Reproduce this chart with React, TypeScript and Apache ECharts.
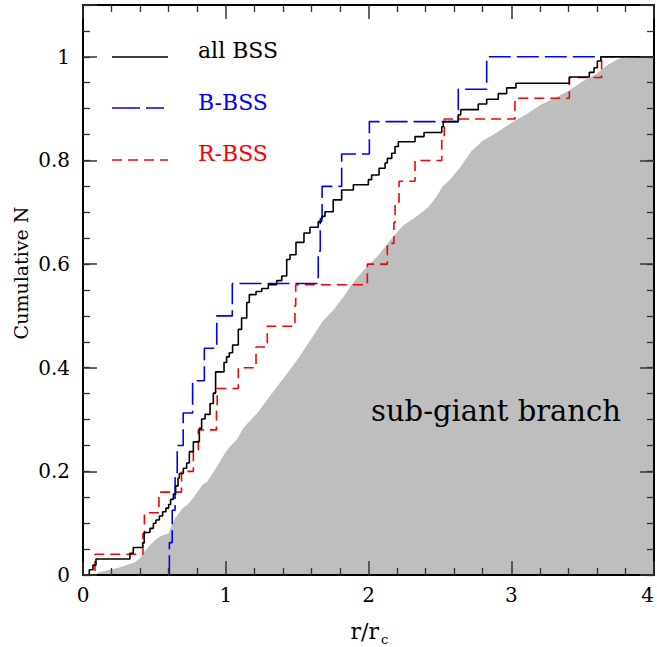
import React, { useEffect, useRef } from "react";
import * as echarts from "echarts";

// all BSS cumulative distribution: radius (r/rc) where each step occurs, and level after the step
const allX = [0.044, 0.07, 0.091, 0.329, 0.352, 0.418, 0.429, 0.469, 0.493, 0.511, 0.535, 0.558, 0.581, 0.6, 0.614, 0.633, 0.649, 0.666, 0.675, 0.703, 0.726, 0.745, 0.773, 0.815, 0.831, 0.855, 0.89, 0.913, 0.929, 0.988, 1.006, 1.025, 1.048, 1.088, 1.111, 1.147, 1.165, 1.212, 1.252, 1.298, 1.357, 1.392, 1.427, 1.45, 1.492, 1.548, 1.59, 1.648, 1.672, 1.695, 1.753, 1.812, 1.894, 1.999, 2.022, 2.074, 2.116, 2.132, 2.163, 2.186, 2.209, 2.326, 2.389, 2.513, 2.524, 2.629, 2.646, 2.769, 2.828, 2.909, 2.968, 3.033, 3.407, 3.547, 3.58, 3.603, 3.627];
const allY = [0.01, 0.019, 0.031, 0.042, 0.053, 0.062, 0.082, 0.09, 0.1, 0.106, 0.114, 0.122, 0.129, 0.136, 0.146, 0.156, 0.172, 0.187, 0.196, 0.206, 0.216, 0.238, 0.257, 0.283, 0.301, 0.31, 0.331, 0.351, 0.392, 0.41, 0.421, 0.429, 0.444, 0.474, 0.496, 0.526, 0.541, 0.547, 0.553, 0.56, 0.568, 0.577, 0.609, 0.618, 0.642, 0.66, 0.671, 0.682, 0.692, 0.701, 0.724, 0.743, 0.753, 0.763, 0.772, 0.785, 0.795, 0.804, 0.814, 0.827, 0.836, 0.846, 0.854, 0.865, 0.875, 0.888, 0.898, 0.909, 0.918, 0.929, 0.94, 0.949, 0.961, 0.97, 0.979, 0.992, 1.0];

// B-BSS
const blueX = [0.605, 0.625, 0.645, 0.66, 0.702, 0.768, 0.85, 0.937, 1.046, 1.648, 1.662, 1.675, 1.812, 2.006, 2.629, 2.828];
const blueY = [0.0625, 0.125, 0.1875, 0.25, 0.3125, 0.375, 0.4375, 0.5, 0.5625, 0.625, 0.6875, 0.75, 0.8125, 0.875, 0.9375, 1.0];

// R-BSS
const redX = [0.084, 0.42, 0.43, 0.532, 0.69, 0.773, 0.808, 0.935, 0.94, 1.088, 1.212, 1.291, 1.485, 1.49, 1.992, 2.132, 2.178, 2.186, 2.214, 2.326, 2.513, 2.531, 3.026, 3.407, 3.633];
const redY = [0.04, 0.08, 0.12, 0.16, 0.2, 0.24, 0.28, 0.32, 0.36, 0.4, 0.44, 0.48, 0.52, 0.56, 0.6, 0.64, 0.68, 0.72, 0.76, 0.8, 0.84, 0.88, 0.92, 0.96, 1.0];

// sub-giant branch cumulative distribution (outline of the grey region)
const sgbX = [0.0, 0.07, 0.12, 0.19, 0.25, 0.31, 0.36, 0.4, 0.43, 0.47, 0.5, 0.54, 0.6, 0.62, 0.645, 0.7, 0.73, 0.77, 0.84, 0.87, 0.94, 1.0, 1.03, 1.08, 1.12, 1.15, 1.22, 1.29, 1.36, 1.43, 1.5, 1.59, 1.68, 1.75, 1.82, 1.89, 1.96, 2.06, 2.15, 2.24, 2.34, 2.42, 2.48, 2.52, 2.57, 2.64, 2.72, 2.8, 2.87, 2.92, 3.01, 3.1, 3.21, 3.31, 3.4, 3.49, 3.59, 3.68, 3.75, 3.8, 4.0];
const sgbY = [0.0, 0.0, 0.006, 0.01, 0.014, 0.02, 0.024, 0.033, 0.045, 0.058, 0.066, 0.075, 0.08, 0.095, 0.109, 0.13, 0.135, 0.148, 0.175, 0.18, 0.21, 0.238, 0.248, 0.262, 0.282, 0.292, 0.312, 0.338, 0.364, 0.389, 0.415, 0.452, 0.49, 0.51, 0.535, 0.563, 0.586, 0.614, 0.645, 0.674, 0.693, 0.71, 0.732, 0.75, 0.763, 0.786, 0.818, 0.838, 0.849, 0.858, 0.874, 0.888, 0.908, 0.921, 0.934, 0.951, 0.966, 0.985, 0.996, 1.0, 1.0];

const xTicks = [0, 1, 2, 3, 4];
const yTicks = [0, 0.2, 0.4, 0.6, 0.8, 1];

const FONT = "DejaVu Serif";
const W = 657;
const H = 647;

function stepData(xs: number[], ys: number[]) {
  const d: number[][] = [[0, 0]];
  xs.forEach((x, i) => d.push([x, ys[i]]));
  d.push([4, ys[ys.length - 1]]);
  return d;
}

export default function App() {
  const ref = useRef<HTMLDivElement>(null);
  useEffect(() => {
    if (!ref.current) return;
    document.body.style.margin = "0";
    document.body.style.overflow = "hidden";
    const chart = echarts.init(ref.current, undefined, { renderer: "svg", width: W, height: H });
    const tickColor = "#333";
    const baseX = {
      type: "value",
      min: xTicks[0],
      max: xTicks[xTicks.length - 1],
      interval: 1,
      z: 5,
      splitLine: { show: false },
      minorSplitLine: { show: false },
      axisLine: { show: true, onZero: false, lineStyle: { color: "#000", width: 2 } },
      axisTick: { show: true, inside: true, length: 14, lineStyle: { color: tickColor, width: 1.5 } },
      minorTick: { show: true, splitNumber: 5, length: 7, lineStyle: { color: tickColor, width: 1.3 } },
    };
    const baseY = {
      type: "value",
      min: 0,
      max: 1.1,
      z: 5,
      splitLine: { show: false },
      minorSplitLine: { show: false },
    };
    const yLabelSet = new Set(yTicks.map((v) => v.toFixed(1)));
    chart.setOption({
      animation: false,
      backgroundColor: "#fff",
      grid: { left: 83, right: 3, top: 5, bottom: 72, containLabel: false, outerBoundsMode: "none" },
      xAxis: [
        {
          ...baseX,
          position: "bottom",
          axisLabel: {
            show: true,
            fontFamily: FONT,
            fontSize: 20,
            color: "#000",
            margin: 10,
            showMinLabel: true,
            showMaxLabel: true,
            alignMaxLabel: "right",
          },
        },
        { ...baseX, position: "top", axisLabel: { show: false } },
      ],
      yAxis: [
        {
          ...baseY,
          position: "left",
          interval: 0.2,
          axisLine: { show: true, onZero: false, lineStyle: { color: "#000", width: 2 } },
          axisTick: { show: true, inside: true, length: 14, lineStyle: { color: tickColor, width: 1.5 } },
          axisLabel: {
            show: true,
            fontFamily: FONT,
            fontSize: 20,
            color: "#000",
            margin: 13,
            formatter: (v: number) => (yLabelSet.has(v.toFixed(1)) && v < 1.05 ? String(Math.round(v * 10) / 10) : ""),
          },
        },
        {
          ...baseY,
          position: "left",
          interval: 0.05,
          axisLine: { show: false, onZero: false },
          axisTick: { show: true, inside: true, length: 7, lineStyle: { color: tickColor, width: 1.3 } },
          axisLabel: { show: false },
        },
        {
          ...baseY,
          position: "right",
          interval: 0.2,
          axisLine: { show: true, onZero: false, lineStyle: { color: "#000", width: 2 } },
          axisTick: { show: true, inside: true, length: 14, lineStyle: { color: tickColor, width: 1.5 } },
          axisLabel: { show: false },
        },
        {
          ...baseY,
          position: "right",
          interval: 0.05,
          axisLine: { show: false, onZero: false },
          axisTick: { show: true, inside: true, length: 7, lineStyle: { color: tickColor, width: 1.3 } },
          axisLabel: { show: false },
        },
      ],
      series: [
        {
          name: "sub-giant branch",
          type: "line",
          xAxisIndex: 0,
          yAxisIndex: 0,
          data: sgbX.map((x, i) => [x, sgbY[i]]),
          symbol: "none",
          lineStyle: { width: 0 },
          areaStyle: { color: "#bebebe", opacity: 1 },
          z: 1,
        },
        {
          name: "R-BSS",
          type: "line",
          step: "end",
          data: stepData(redX, redY),
          symbol: "none",
          lineStyle: { color: "#ff0000", width: 1.6, type: [10, 6] },
          z: 3,
        },
        {
          name: "B-BSS",
          type: "line",
          step: "end",
          data: stepData(blueX, blueY),
          symbol: "none",
          lineStyle: { color: "#0000ff", width: 1.6, type: [22, 6] },
          z: 3,
        },
        {
          name: "all BSS",
          type: "line",
          step: "end",
          data: stepData(allX, allY),
          symbol: "none",
          lineStyle: { color: "#000", width: 1.6 },
          z: 4,
        },
      ],
      graphic: [
        { type: "line", shape: { x1: 112, y1: 57, x2: 168, y2: 57 }, style: { stroke: "#000", lineWidth: 1.6 }, z: 10 },
        { type: "line", shape: { x1: 112, y1: 108, x2: 164, y2: 108 }, style: { stroke: "#0000ff", lineWidth: 1.6, lineDash: [28, 6] }, z: 10 },
        { type: "line", shape: { x1: 112, y1: 160, x2: 168, y2: 160 }, style: { stroke: "#ff0000", lineWidth: 1.6, lineDash: [10, 6] }, z: 10 },
        { type: "text", x: 198, y: 50, style: { text: "all BSS", fill: "#000", font: `22px ${FONT}`, align: "left", verticalAlign: "middle" }, z: 10 },
        { type: "text", x: 198, y: 102, style: { text: "B-BSS", fill: "#0000ff", font: `22px ${FONT}`, align: "left", verticalAlign: "middle" }, z: 10 },
        { type: "text", x: 198, y: 153, style: { text: "R-BSS", fill: "#ff0000", font: `22px ${FONT}`, align: "left", verticalAlign: "middle" }, z: 10 },
        { type: "text", x: 496, y: 411, style: { text: "sub-giant branch", fill: "#000", font: `29px ${FONT}`, align: "center", verticalAlign: "middle" }, z: 10 },
        { type: "text", x: 21, y: 273, rotation: Math.PI / 2, style: { text: "Cumulative N", fill: "#000", font: `19px ${FONT}`, align: "center", verticalAlign: "middle" }, z: 10 },
        { type: "text", x: 379, y: 631, style: { text: "r/r", fill: "#000", font: `22px ${FONT}`, align: "right", verticalAlign: "middle" }, z: 10 },
        { type: "text", x: 381, y: 639, style: { text: "c", fill: "#000", font: `13px ${FONT}`, align: "left", verticalAlign: "middle" }, z: 10 },
      ],
    });
    return () => chart.dispose();
  }, []);
  return (
    <div
      ref={ref}
      style={{ position: "fixed", left: 0, top: 0, width: W, height: H, background: "#fff" }}
    />
  );
}
